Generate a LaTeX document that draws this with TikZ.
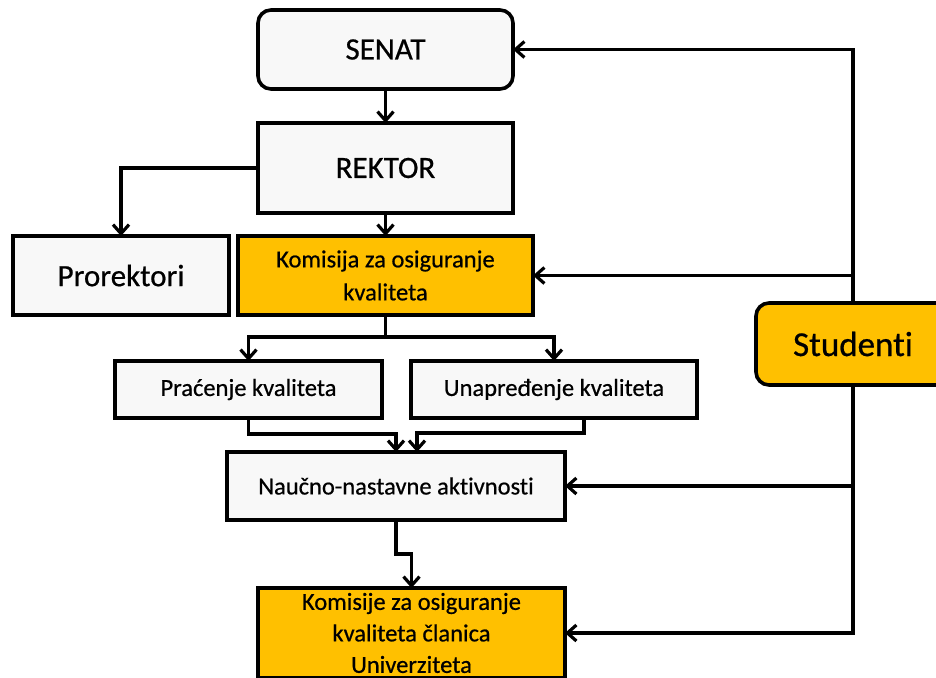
\documentclass[tikz,border=0pt]{standalone}
\usepackage{fontspec}
\setmainfont{Carlito}[Ligatures=NoCommon,FakeBold=0.6]
\usetikzlibrary{arrows.meta,backgrounds,calc}
\definecolor{boxgray}{HTML}{F8F8F8}
\definecolor{boxorange}{HTML}{FFC000}
\begin{document}
\begin{tikzpicture}[x=1pt,y=-1pt,
  boxbase/.style={draw=black,line width=3.6pt,inner sep=0pt,outer sep=0pt,align=center,text=black},
  graybox/.style={boxbase,fill=boxgray},
  orangebox/.style={boxbase,fill=boxorange},
  bigtext/.style={font=\fontsize{31}{36}\selectfont},
  midtext/.style={font=\fontsize{24.5}{33}\selectfont},
  conn/.style={draw=black,line width=3.2pt},
  arr/.style={conn,-{Straight Barb[length=9pt,width=16pt,line width=3.2pt]}}
]
\clip (0,0) rectangle (936,677);

\node[graybox,bigtext,rounded corners=13pt,minimum width=255pt,minimum height=79pt] (senat) at (385.5,49.5) {SENAT};
\node[graybox,bigtext,minimum width=255pt,minimum height=90pt] (rektor) at (385.5,168) {REKTOR};
\node[graybox,bigtext,minimum width=216pt,minimum height=79pt] (prorek) at (121,275.5) {Prorektori};
\node[orangebox,midtext,minimum width=295pt,minimum height=79pt] (komisija) at (385.5,275.5) {Komisija za osiguranje\\kvaliteta};
\node[graybox,midtext,minimum width=267pt,minimum height=57pt] (pracenje) at (248.5,389.5) {Praćenje kvaliteta};
\node[graybox,midtext,minimum width=286pt,minimum height=57pt] (unapr) at (554,389.5) {Unapređenje kvaliteta};
\node[graybox,midtext,minimum width=338pt,minimum height=68pt] (naucno) at (396,486) {Naučno-nastavne aktivnosti};
\node[orangebox,font=\fontsize{24.5}{31.5}\selectfont,minimum width=307pt,minimum height=90pt] (komisije) at (411.5,633) {Komisije za osiguranje\\kvaliteta članica\\Univerziteta};
\node[orangebox,font=\fontsize{35}{40}\selectfont,rounded corners=13pt,minimum width=194pt,minimum height=82pt] (studenti) at (853,344) {Studenti};

\begin{scope}[on background layer]
\fill[white] (0,0) rectangle (936,677);
\draw[arr] (senat) -- (rektor);
\draw[arr] (rektor.west) -| (prorek.north);
\draw[arr] (rektor) -- (komisija);
\draw[conn] (komisija.south) -- ++(0,22) coordinate (ksplit);
\draw[arr] (ksplit) -| (pracenje.north);
\draw[arr] (ksplit) -| (unapr.north);
\draw[arr] (pracenje.south) -- ++(0,16) -| (naucno.north);
\draw[arr] ([xshift=30pt]unapr.south) -- ++(0,15) -| ([xshift=21pt]naucno.north);
\draw[arr] (naucno.south) -- ++(0,34) -| (komisije.north);
\draw[arr] (studenti.north) |- (senat.east);
\draw[arr] (studenti.north) |- (komisija.east);
\draw[arr] (studenti.south) |- (naucno.east);
\draw[arr] (studenti.south) |- (komisije.east);
\end{scope}
\end{tikzpicture}
\end{document}
